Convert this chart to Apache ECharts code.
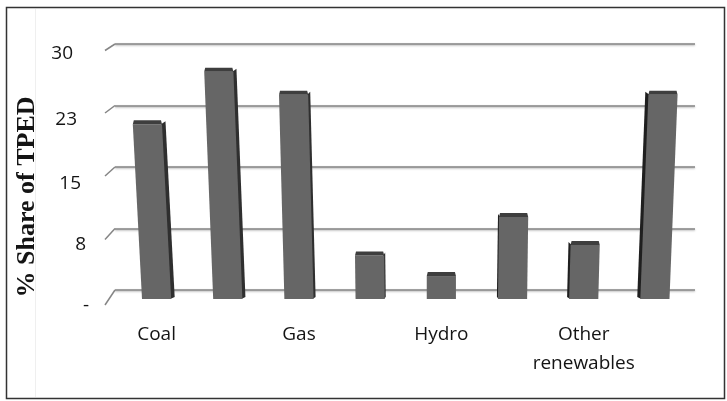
<!DOCTYPE html>
<html>
<head>
<meta charset="utf-8">
<script src="https://cdn.jsdelivr.net/npm/echarts@6/dist/echarts.min.js"></script>
<style>
  html, body { margin: 0; padding: 0; background: #fff; }
  #chart { width: 727px; height: 401px; }
</style>
</head>
<body>
<div id="chart"></div>
<script>
// Energy sources along the floor of the chart (every other one is labelled)
const categories = ['Coal', 'Oil', 'Gas', 'Nuclear', 'Hydro', 'Biomass', 'Other renewables', 'Total renewables'];
// Share of total primary energy demand, %
const shares = [21.3, 27.7, 24.9, 5.3, 2.8, 10.0, 6.6, 24.9];
// Value-axis ticks and the text shown for each
const tickValues = [0, 7.5, 15, 22.5, 30];
const tickLabels = ['-', '8', '15', '23', '30'];

const wallLeft = 115, wallRight = 32;   // back wall with the gridlines
const floorLeft = 121, floorRight = 36.5; // columns sit slightly inside the wall
const plotTop = 44, plotBottom = 111;

const labelFont = 'Open Sans';
const textColor = '#141414';

// per-tick nudges so the labels follow the slanted left edge of the wall
const labelPadTop = [32, 33, 33, 28, 19];
const labelPadRight = [0, 3, 8, 12, 16];
const rich = {};
tickValues.forEach((v, i) => {
  rich['t' + i] = {
    fontFamily: labelFont, fontSize: 19, color: textColor,
    padding: [labelPadTop[i], labelPadRight[i], 0, 0]
  };
});

const chart = echarts.init(document.getElementById('chart'), null, { renderer: 'canvas' });

function renderColumn(params, api) {
  const i = api.value(0), v = api.value(1);
  const base = api.coord([i, 0]);
  const top = api.coord([i, v]);
  const mid = api.coord([4, 0])[0];
  const w = api.size([1, 0])[0] * 0.41;
  const depth = 9, lid = 4;
  const h = base[1] - top[1];
  const dx = base[0] - mid;
  const lean = 0.000185 * h * dx;
  const yb = base[1] + depth, yt = top[1] + depth;
  const x0 = base[0] - w / 2, x1 = base[0] + w / 2;
  const s = Math.min(3.5, Math.abs(dx) / 70);

  const children = [];
  // visible side face, away from the centre of view
  if (dx < -1) {
    children.push({
      type: 'polygon',
      shape: { points: [[x1 - 1, yb], [x1 + s, yb - 2], [x1 + s + lean, yt - lid + 1], [x1 + lean - 1, yt]] },
      style: { fill: '#2f2f2f' }
    });
  } else if (dx > 1) {
    children.push({
      type: 'polygon',
      shape: { points: [[x0 + 1, yb], [x0 - s, yb - 2], [x0 - s + lean, yt - lid + 1], [x0 + lean + 1, yt]] },
      style: { fill: '#1f1f1f' }
    });
  }
  // front face
  children.push({
    type: 'polygon',
    shape: { points: [[x0, yb], [x1, yb], [x1 + lean, yt], [x0 + lean, yt]] },
    style: { fill: '#666666' }
  });
  // top face
  children.push({
    type: 'polygon',
    shape: { points: [[x0 + lean, yt], [x1 + lean, yt], [x1 + lean - 1, yt - lid], [x0 + lean + 1, yt - lid]] },
    style: { fill: '#3e3e3e' }
  });
  return { type: 'group', children };
}

const option = {
  animation: false,
  backgroundColor: '#ffffff',
  grid: [
    { left: wallLeft, right: wallRight, top: plotTop, bottom: plotBottom },
    { left: floorLeft, right: floorRight, top: plotTop, bottom: plotBottom }
  ],
  xAxis: [
    { gridIndex: 0, type: 'category', data: categories, show: false },
    {
      gridIndex: 1, type: 'category', data: categories,
      axisLine: { show: false }, axisTick: { show: false }, splitLine: { show: false },
      axisLabel: {
        interval: 1, margin: 30,
        fontFamily: labelFont, fontSize: 19, color: textColor, lineHeight: 29,
        formatter: (name) => name.replace(' ', '\n')
      }
    }
  ],
  yAxis: [
    {
      gridIndex: 0, type: 'value', min: 0, max: 30, interval: 7.5,
      axisLine: { show: false }, axisTick: { show: false },
      splitLine: {
        lineStyle: {
          color: '#858585', width: 1.7,
          shadowColor: 'rgba(0,0,0,0.3)', shadowBlur: 2, shadowOffsetY: 1
        }
      },
      axisLabel: {
        margin: 26,
        formatter: (v) => {
          const i = tickValues.indexOf(v);
          return '{t' + i + '|' + tickLabels[i] + '}';
        },
        rich
      }
    },
    { gridIndex: 1, type: 'value', min: 0, max: 30, interval: 7.5, show: false }
  ],
  series: [{
    type: 'custom',
    xAxisIndex: 1, yAxisIndex: 1,
    data: shares.map((v, i) => [i, v]),
    encode: { x: 0, y: 1 },
    renderItem: renderColumn
  }]
};

chart.setOption(option);

// slanted stubs where each gridline turns onto the side wall, plus frame and axis title
const stubDrop = [15, 11, 9, 7.5, 6.5];
const graphics = tickValues.map((v, i) => {
  const y = chart.convertToPixel({ yAxisIndex: 0 }, v);
  return {
    type: 'line',
    shape: { x1: wallLeft - 10, y1: y + stubDrop[i], x2: wallLeft, y2: y },
    style: { stroke: '#858585', lineWidth: 1.5 }
  };
});
graphics.push({
  type: 'line',
  shape: { x1: 35.5, y1: 9, x2: 35.5, y2: 397 },
  style: { stroke: '#efefef', lineWidth: 1 }
});
graphics.push({
  type: 'rect',
  shape: { x: 6.5, y: 7.5, width: 718, height: 391 },
  style: { fill: 'none', stroke: '#333333', lineWidth: 1.5 }
});
graphics.push({
  type: 'text',
  x: 27, y: 197,
  rotation: Math.PI / 2,
  style: {
    text: '% Share of TPED',
    fontFamily: 'Liberation Serif', fontWeight: 'bold', fontSize: 26,
    fill: textColor,
    align: 'center', verticalAlign: 'middle',
    textAlign: 'center', textVerticalAlign: 'middle'
  }
});
chart.setOption({ graphic: { elements: graphics } });
</script>
</body>
</html>
